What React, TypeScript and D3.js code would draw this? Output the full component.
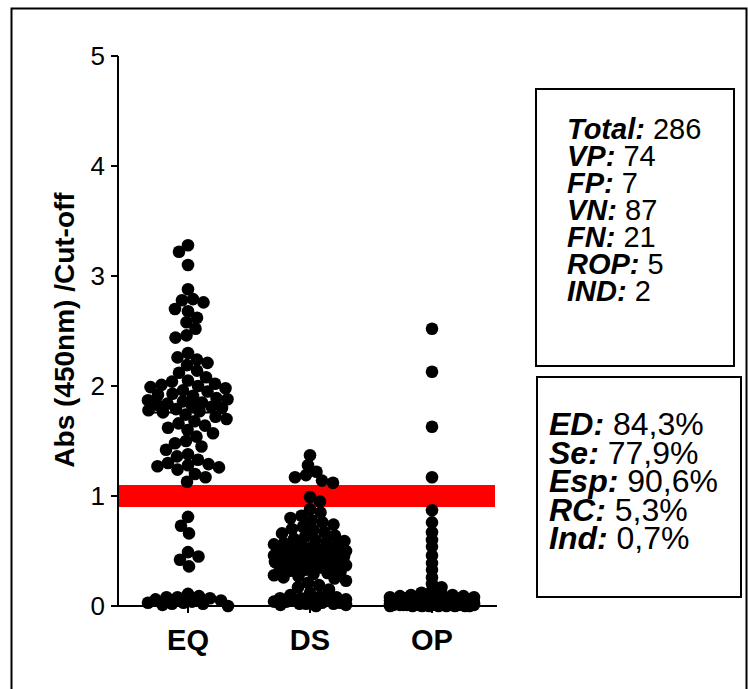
import React from "react";
import * as d3 from "d3";

// Category names on the x axis
const CATEGORIES = ["EQ", "DS", "OP"];

// Abs(450nm)/Cut-off index per sample, grouped by category
const EQ_VALUES = [
  3.28, 3.22, 3.1,
  2.88, 2.79, 2.78, 2.76, 2.7, 2.68, 2.62, 2.58, 2.52, 2.46, 2.44,
  2.3, 2.26, 2.24, 2.21, 2.19, 2.14, 2.12, 2.08, 2.05, 2.04, 2.02, 2.01, 2.0, 1.99, 1.98,
  1.96, 1.95, 1.93, 1.92, 1.91, 1.89, 1.88, 1.87, 1.86, 1.85, 1.84, 1.83, 1.82, 1.81, 1.8,
  1.79, 1.78, 1.77, 1.76, 1.74, 1.72,
  1.7, 1.68, 1.66, 1.64, 1.62, 1.6, 1.57, 1.54, 1.5, 1.48, 1.45, 1.42, 1.38, 1.36, 1.33,
  1.3, 1.29, 1.28, 1.27, 1.26, 1.24, 1.2, 1.17, 1.13,
  0.81, 0.73, 0.66, 0.49, 0.45, 0.42, 0.36,
  0.11, 0.09, 0.08, 0.08, 0.07, 0.06, 0.05, 0.04, 0.03, 0.03, 0.02, 0.02, 0.01, 0.0,
];

const DS_VALUES = [
  1.37, 1.28, 1.22, 1.19, 1.17, 1.14, 1.12,
  0.99, 0.95,
  0.88, 0.85, 0.82, 0.8, 0.78, 0.76, 0.74, 0.72, 0.7, 0.69, 0.67, 0.66, 0.64, 0.63, 0.61,
  0.6, 0.59, 0.58, 0.57, 0.56, 0.55, 0.54, 0.53, 0.52, 0.51,
  0.5, 0.5, 0.49, 0.49, 0.48, 0.48, 0.47, 0.47, 0.46, 0.46, 0.45, 0.45, 0.44, 0.44,
  0.43, 0.43, 0.42, 0.41, 0.4, 0.4, 0.39, 0.38, 0.37, 0.37, 0.36, 0.35, 0.34, 0.33,
  0.32, 0.31, 0.3, 0.29, 0.28, 0.27, 0.26, 0.25, 0.23, 0.21, 0.19, 0.17,
  0.15, 0.12, 0.1, 0.09, 0.08, 0.07, 0.07, 0.06, 0.06, 0.05, 0.05, 0.04, 0.04, 0.03, 0.03,
  0.02, 0.02, 0.02, 0.01, 0.01, 0.0,
];

const OP_VALUES = [
  2.52, 2.13, 1.63, 1.17, 0.87,
  0.76, 0.67, 0.6, 0.54, 0.46, 0.39, 0.33, 0.26, 0.2, 0.17, 0.14, 0.12, 0.11, 0.1,
  0.1, 0.09, 0.09, 0.08, 0.08, 0.08,
  0.07, 0.07, 0.07, 0.07, 0.06, 0.06, 0.06, 0.06, 0.06, 0.06,
  0.05, 0.05, 0.05, 0.05, 0.05, 0.05, 0.05, 0.04, 0.04, 0.04, 0.04, 0.04, 0.04, 0.04,
  0.03, 0.03, 0.03, 0.03, 0.03, 0.03, 0.03, 0.03, 0.03, 0.02, 0.02, 0.02, 0.02, 0.02,
  0.02, 0.02, 0.02, 0.02, 0.02, 0.01, 0.01, 0.01, 0.01, 0.01, 0.01, 0.01, 0.01, 0.01,
  0.0, 0.0, 0.0, 0.0, 0.0, 0.0, 0.0, 0.03, 0.05, 0.06, 0.04, 0.02,
  0.01, 0.0, 0.02, 0.01, 0.03, 0.0,
];

const GROUP_VALUES = [EQ_VALUES, DS_VALUES, OP_VALUES];

// Cut-off and grey zone (indeterminate range)
const CUTOFF_BAND = [0.9, 1.1];

const Y_TICKS = [0, 1, 2, 3, 4, 5];

const COUNT_LABELS = ["Total:", "VP:", "FP:", "VN:", "FN:", "ROP:", "IND:"];
const COUNT_VALUES = ["286", "74", "7", "87", "21", "5", "2"];

const PERF_LABELS = ["ED:", "Se:", "Esp:", "RC:", "Ind:"];
const PERF_VALUES = ["84,3%", "77,9%", "90,6%", "5,3%", "0,7%"];

const FONT = "'Liberation Sans', Arial, Helvetica, sans-serif";

const W = 748;
const H = 689;
const R = 6.3;
const SPACING = 11;

const y = d3.scaleLinear().domain([0, 5]).range([606, 56]);
const x = d3.scaleBand<string>().domain(CATEGORIES).range([127, 493]).padding(0);

type Dot = { v: number; dx: number; py: number };

// Beeswarm: each dot goes to the offset nearest the centre that keeps it
// clear of earlier dots; when the column is full it takes the least crowded spot.
// yWeight > 1 lets dots stack closer vertically.
function swarm(values: number[], maxW: number, yWeight: number): Dot[] {
  const sorted = values
    .map((v, i) => ({ v, i }))
    .sort((a, b) => b.v - a.v || a.i - b.i);
  const placed: Dot[] = [];
  sorted.forEach(({ v }, k) => {
    const py = y(v);
    const near = placed.filter((p) => Math.abs(p.py - py) * yWeight < SPACING);
    let best = 0;
    let bestScore = -1;
    let freeBest: number | null = null;
    const sign = k % 2 === 0 ? 1 : -1;
    for (let s = 0; s <= maxW; s += 0.5) {
      for (const off of s === 0 ? [0] : [sign * s, -sign * s]) {
        let minD = Infinity;
        for (const p of near) {
          const d = Math.hypot(p.dx - off, (p.py - py) * yWeight);
          if (d < minD) minD = d;
        }
        if (minD >= SPACING && freeBest === null) freeBest = off;
        if (minD > bestScore) {
          bestScore = minD;
          best = off;
        }
      }
      if (freeBest !== null) break;
    }
    placed.push({ v, dx: freeBest !== null ? freeBest : best, py });
  });
  return placed;
}

const MAX_WIDTHS = [40, 36, 42];
const Y_WEIGHTS = [1, 1.1, 1.9];

export default function App() {
  const groups = CATEGORIES.map((c, gi) => ({
    cat: c,
    cx: (x(c) as number) + x.bandwidth() / 2,
    dots: swarm(GROUP_VALUES[gi], MAX_WIDTHS[gi], Y_WEIGHTS[gi]),
    median: d3.median(GROUP_VALUES[gi]) as number,
  }));

  const axisLeft = 118;
  const axisRight = 497;

  return (
    <svg
      width={W}
      height={H}
      style={{ position: "absolute", left: 0, top: 0, background: "#fff" }}
      fontFamily={FONT}
    >
      <rect x={0} y={0} width={W} height={H} fill="#fff" />
      {/* outer frame */}
      <path d={`M11.5,${H + 5} V8.5 H746.5 V${H + 5}`} fill="none" stroke="#000" strokeWidth={2} />

      {/* grey zone around the cut-off */}
      <rect
        x={axisLeft + 1}
        y={y(CUTOFF_BAND[1])}
        width={axisRight - axisLeft - 3}
        height={y(CUTOFF_BAND[0]) - y(CUTOFF_BAND[1])}
        fill="#ff0000"
      />

      {/* y axis */}
      <line x1={axisLeft} x2={axisLeft} y1={y(5)} y2={y(0)} stroke="#000" strokeWidth={2} />
      {Y_TICKS.map((t) => (
        <g key={t}>
          <line x1={axisLeft - 7} x2={axisLeft} y1={y(t)} y2={y(t)} stroke="#000" strokeWidth={2} />
          <text
            x={axisLeft - 13}
            y={y(t)}
            dy="0.36em"
            textAnchor="end"
            fontSize={26}
            fill="#000"
          >
            {t}
          </text>
        </g>
      ))}

      {/* x axis */}
      <line x1={axisLeft - 7} x2={axisRight} y1={y(0)} y2={y(0)} stroke="#000" strokeWidth={2} />
      {groups.map((g) => (
        <g key={g.cat}>
          <line x1={g.cx} x2={g.cx} y1={y(0)} y2={y(0) + 7} stroke="#000" strokeWidth={2} />
          <text
            x={g.cx}
            y={650}
            textAnchor="middle"
            fontSize={29}
            fontWeight="bold"
            fill="#000"
          >
            {g.cat}
          </text>
        </g>
      ))}

      {/* y axis title */}
      <text
        transform={`translate(74,330) rotate(-90)`}
        textAnchor="middle"
        fontSize={28}
        fontWeight="bold"
        fill="#000"
      >
        Abs (450nm) /Cut-off
      </text>

      {/* sample dots */}
      {groups.map((g) => (
        <g key={g.cat}>
          {g.dots.map((d, i) => (
            <circle key={i} cx={g.cx + d.dx} cy={d.py} r={R} fill="#000" />
          ))}
          <line
            x1={g.cx - 38}
            x2={g.cx + 38}
            y1={y(g.median)}
            y2={y(g.median)}
            stroke="#000"
            strokeWidth={2}
          />
        </g>
      ))}

      {/* counts box */}
      <rect x={536} y={89} width={198} height={277} fill="none" stroke="#000" strokeWidth={2} />
      {COUNT_LABELS.map((l, i) => (
        <text key={l} x={567} y={139 + i * 27} fontSize={29} fill="#000">
          <tspan fontWeight="bold" fontStyle="italic">{l}</tspan>
          <tspan> {COUNT_VALUES[i]}</tspan>
        </text>
      ))}

      {/* performance box */}
      <rect x={537} y={377} width={204} height={220} fill="none" stroke="#000" strokeWidth={2} />
      {PERF_LABELS.map((l, i) => (
        <text key={l} x={549} y={435 + i * 28.5} fontSize={32} fill="#000">
          <tspan fontWeight="bold" fontStyle="italic">{l}</tspan>
          <tspan> {PERF_VALUES[i]}</tspan>
        </text>
      ))}
    </svg>
  );
}
